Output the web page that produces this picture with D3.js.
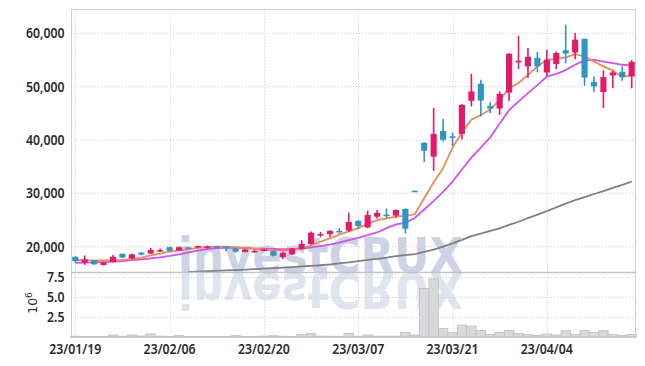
<!DOCTYPE html>
<html>
<head>
<meta charset="utf-8">
<script src="https://cdn.jsdelivr.net/npm/d3@7/dist/d3.min.js"></script>
<style>
  body { margin: 0; background: #fff; }
  .tick-label { font-family: "Noto Sans", sans-serif; font-weight: 600; font-size: 15px; fill: #2a2a2a; }
</style>
</head>
<body>
<script>
// trading days shown (yy/mm/dd)
var dates = ["23/01/19","23/01/20","23/01/25","23/01/26","23/01/27","23/01/30","23/01/31",
  "23/02/01","23/02/02","23/02/03","23/02/06","23/02/07","23/02/08","23/02/09","23/02/10",
  "23/02/13","23/02/14","23/02/15","23/02/16","23/02/17","23/02/20","23/02/21","23/02/22",
  "23/02/23","23/02/24","23/02/27","23/02/28","23/03/02","23/03/03","23/03/06","23/03/07",
  "23/03/08","23/03/09","23/03/10","23/03/13","23/03/14","23/03/15","23/03/16","23/03/17",
  "23/03/20","23/03/21","23/03/22","23/03/23","23/03/24","23/03/27","23/03/28","23/03/29",
  "23/03/30","23/03/31","23/04/03","23/04/04","23/04/05","23/04/06","23/04/07","23/04/10",
  "23/04/11","23/04/12","23/04/13","23/04/14","23/04/17"];

var open  = [18050,16950,17350,16500,17050,18600,17700,18800,18650,19150,19850,19200,19800,19850,19900,
  20000,19950,19600,18950,19000,19200,19100,17950,18500,19500,20450,22200,22300,22900,22950,
  24750,23550,25550,25950,25750,27000,30400,39400,36800,41600,40600,41050,47250,50450,46300,
  45800,48800,54450,53700,55300,52550,54150,56700,56300,58850,50800,48900,52000,52700,51800];
var high  = [18100,18300,17400,17050,18400,18650,18600,18950,19700,19600,19900,19950,19900,20150,20150,
  20100,20000,19700,19500,19400,19500,19200,19000,19700,21150,22800,22700,23000,23400,26300,
  24900,26700,26800,27100,26900,27100,30450,39500,45900,43850,41300,46600,52300,51200,47000,
  49000,56200,59450,57150,56400,56800,56500,61500,59950,58900,51800,52950,52900,53700,54900];
var low   = [16900,16500,16500,16400,16950,17800,17600,18300,18600,19000,19100,19150,19700,19800,19800,
  19850,19100,18800,18900,18800,19100,18100,17600,18400,19400,20300,21700,21700,22400,22700,
  23200,23400,25200,25300,25300,22400,30250,35750,34150,39700,38800,40000,46200,44300,44950,
  44600,47200,53200,51500,52600,51900,53200,54300,55050,50100,48900,45900,49600,51000,49600];
var close = [17250,17550,16650,17000,18050,17900,18500,18450,19300,19300,19150,19850,19750,20050,20000,
  19950,19850,19000,19400,19150,19400,18250,18800,19600,20450,22550,22300,22900,22650,24550,
  23800,25850,26250,25850,26800,23300,30300,37900,41050,39950,40450,46500,49000,47300,45800,
  48550,56050,54750,55500,53700,54950,56200,56100,58700,51600,49950,51700,52550,51700,54550];

// volume, millions of shares
var volume = [0.1,0.08,0.05,0.05,0.25,0.1,0.25,0.12,0.38,0.1,0.08,0.2,0.05,0.05,0.05,
  0.05,0.05,0.2,0.05,0.05,0.1,0.15,0.1,0.05,0.3,0.45,0.1,0.1,0.08,0.45,
  0.1,0.25,0.1,0.1,0.1,0.57,0.25,6.0,7.2,1.07,0.57,1.48,1.35,0.82,0.33,
  0.57,0.82,0.45,0.33,0.2,0.37,0.25,0.78,0.33,0.78,0.57,0.78,0.33,0.2,0.33];

// moving averages
var ma5 = [17450,17400,17350,17350,17400,17450,17600,17900,18300,18650,19000,19250,19450,19700,19850,
  19950,19950,19850,19700,19550,19400,19300,19200,19300,19600,20200,20900,21500,22200,22800,
  23400,24200,24900,25200,25600,25700,26000,29000,32000,34600,38500,41300,43700,44600,45600,
  47400,49600,50600,52100,53700,54900,55100,55400,56000,55600,54600,53700,52900,51700,52100];
var ma20 = [16930,16950,16980,17050,17150,17250,17400,17550,17750,17950,18200,18500,18850,19200,19500,
  19650,19700,19700,19650,19600,19550,19500,19450,19450,19550,19800,20050,20300,20700,21150,
  21600,22100,22600,23400,24100,24400,25300,26900,28500,30200,32100,34400,36600,38500,40400,
  43000,45500,47100,48700,50200,51800,52300,53000,54000,54800,54900,54600,54300,54000,53900];
var ma120 = [null,null,null,null,null,null,null,null,null,null,null,null,15200,15260,15330,
  15400,15480,15560,15650,15740,15830,15920,16020,16120,16230,16340,16460,16600,16800,17000,
  17250,17450,17650,17900,18150,18350,18560,18950,19400,19950,20550,21200,21900,22400,22900,
  23350,24000,24600,25300,25950,26600,27300,28000,28650,29200,29800,30350,30950,31500,32100];

var priceTicks = [20000, 30000, 40000, 50000, 60000];
var volTicks = [2.5, 5.0, 7.5];
var dateTicks = ["23/01/19","23/02/06","23/02/20","23/03/07","23/03/21","23/04/04"];

var W = 645, H = 366;
var plotLeft = 71, plotRight = 636, plotTop = 9.5, split = 272.5, plotBottom = 337;
var squeeze = 0.82; // labels in the original use a narrow face

var svg = d3.select("body").append("svg")
    .attr("width", W)
    .attr("height", H);

var x = d3.scaleBand()
    .domain(dates)
    .range([plotLeft, plotRight])
    .paddingInner(0.35)
    .paddingOuter(0.13);
var cx = function(d) { return x(d) + x.bandwidth() / 2; };

var y = d3.scaleLinear().domain([15100, 64350]).range([split, plotTop]);
var yv = d3.scaleLinear().domain([0, 8.0]).range([plotBottom, split]);

var gridColor = "#c6cbdc";

// horizontal grid, price panel
svg.append("g").selectAll("line")
    .data(priceTicks).enter().append("line")
    .attr("x1", plotLeft).attr("x2", plotRight)
    .attr("y1", function(d) { return Math.round(y(d)) + 0.5; })
    .attr("y2", function(d) { return Math.round(y(d)) + 0.5; })
    .attr("stroke", gridColor).attr("stroke-dasharray", "1,2");

// horizontal grid, volume panel
svg.append("g").selectAll("line")
    .data(volTicks).enter().append("line")
    .attr("x1", plotLeft).attr("x2", plotRight)
    .attr("y1", function(d) { return Math.round(yv(d)) + 0.5; })
    .attr("y2", function(d) { return Math.round(yv(d)) + 0.5; })
    .attr("stroke", gridColor).attr("stroke-dasharray", "1,2");

// vertical grid
svg.append("g").selectAll("line")
    .data(dateTicks).enter().append("line")
    .attr("x1", function(d) { return Math.round(cx(d)) + 0.5; })
    .attr("x2", function(d) { return Math.round(cx(d)) + 0.5; })
    .attr("y1", plotTop).attr("y2", plotBottom)
    .attr("stroke", gridColor).attr("stroke-dasharray", "1,2");

// watermark + reflection
var wm = svg.append("g").attr("font-family", "DejaVu Sans, sans-serif")
    .attr("font-weight", "bold").attr("font-size", 50).attr("fill", "#cdd3e4");
wm.append("text")
    .attr("x", 178).attr("y", split)
    .attr("textLength", 285).attr("lengthAdjust", "spacingAndGlyphs")
    .text("investCRUX");
wm.append("text")
    .attr("x", 178).attr("y", split)
    .attr("textLength", 285).attr("lengthAdjust", "spacingAndGlyphs")
    .attr("transform", "translate(0," + (2 * split) + ") scale(1,-1)")
    .attr("opacity", 0.6)
    .text("investCRUX");

// volume bars
var step = x.step();
svg.append("g").selectAll("rect")
    .data(dates).enter().append("rect")
    .attr("x", function(d) { return cx(d) - step / 2; })
    .attr("width", step)
    .attr("y", function(d, i) { return yv(volume[i]); })
    .attr("height", function(d, i) { return plotBottom - yv(volume[i]); })
    .attr("fill", "#d9d9dc")
    .attr("stroke", "#bfbfc4")
    .attr("stroke-width", 0.8);

// moving average lines
function maLine(vals, color, w) {
    var line = d3.line()
        .defined(function(d) { return d != null; })
        .x(function(d, i) { return cx(dates[i]); })
        .y(function(d) { return y(d); });
    svg.append("path")
        .datum(vals)
        .attr("fill", "none")
        .attr("stroke", color)
        .attr("stroke-width", w)
        .attr("d", line);
}
maLine(ma120, "#808084", 1.8);
maLine(ma20, "#cc55ee", 1.8);
maLine(ma5, "#ef8a55", 1.8);

// candles
var up = "#e5196b", down = "#2f95c6";
var candles = svg.append("g").selectAll("g")
    .data(dates).enter().append("g");
candles.append("line")
    .attr("x1", cx).attr("x2", cx)
    .attr("y1", function(d, i) { return y(high[i]); })
    .attr("y2", function(d, i) { return y(low[i]); })
    .attr("stroke", function(d, i) { return close[i] >= open[i] ? up : down; })
    .attr("stroke-width", 1.6);
candles.append("rect")
    .attr("x", function(d) { return x(d); })
    .attr("width", x.bandwidth())
    .attr("y", function(d, i) { return y(Math.max(open[i], close[i])); })
    .attr("height", function(d, i) { return Math.max(1.5, Math.abs(y(open[i]) - y(close[i]))); })
    .attr("fill", function(d, i) { return close[i] >= open[i] ? up : down; });

// frame
var frame = "#cfcfd4";
svg.append("path")
    .attr("d", "M" + (plotLeft + 0.5) + "," + plotBottom + "V" + plotTop + "H" + (plotRight - 0.5) + "V" + plotBottom)
    .attr("fill", "none").attr("stroke", frame);
svg.append("line")
    .attr("x1", plotLeft).attr("x2", plotRight).attr("y1", split).attr("y2", split)
    .attr("stroke", "#c4c4c8").attr("stroke-width", 1.5);
svg.append("line")
    .attr("x1", plotLeft).attr("x2", plotRight).attr("y1", plotBottom).attr("y2", plotBottom)
    .attr("stroke", "#c4c4c8").attr("stroke-width", 1.5);

// y labels
svg.append("g").selectAll("text")
    .data(priceTicks).enter().append("text")
    .attr("class", "tick-label")
    .attr("transform", function(d) { return "translate(64.5," + y(d) + ") scale(" + squeeze + ",1)"; })
    .attr("dy", "0.36em")
    .attr("text-anchor", "end")
    .text(d3.format(","));
svg.append("g").selectAll("text")
    .data(volTicks).enter().append("text")
    .attr("class", "tick-label")
    .attr("transform", function(d) { return "translate(64.5," + yv(d) + ") scale(" + squeeze + ",1)"; })
    .attr("dy", "0.36em")
    .attr("text-anchor", "end")
    .text(d3.format(".1f"));

// x labels
svg.append("g").selectAll("text")
    .data(dateTicks).enter().append("text")
    .attr("class", "tick-label")
    .attr("transform", function(d) { return "translate(" + cx(d) + ",354) scale(" + squeeze + ",1)"; })
    .attr("text-anchor", "middle")
    .text(function(d) { return d; });

// volume unit
var unit = svg.append("text")
    .attr("transform", "translate(37,303) rotate(-90)")
    .attr("text-anchor", "middle")
    .attr("font-family", "DejaVu Sans, sans-serif")
    .attr("font-size", 12.5)
    .attr("fill", "#333")
    .text("10");
unit.append("tspan").attr("dy", -5).attr("font-size", 9).text("6");
</script>
</body>
</html>
